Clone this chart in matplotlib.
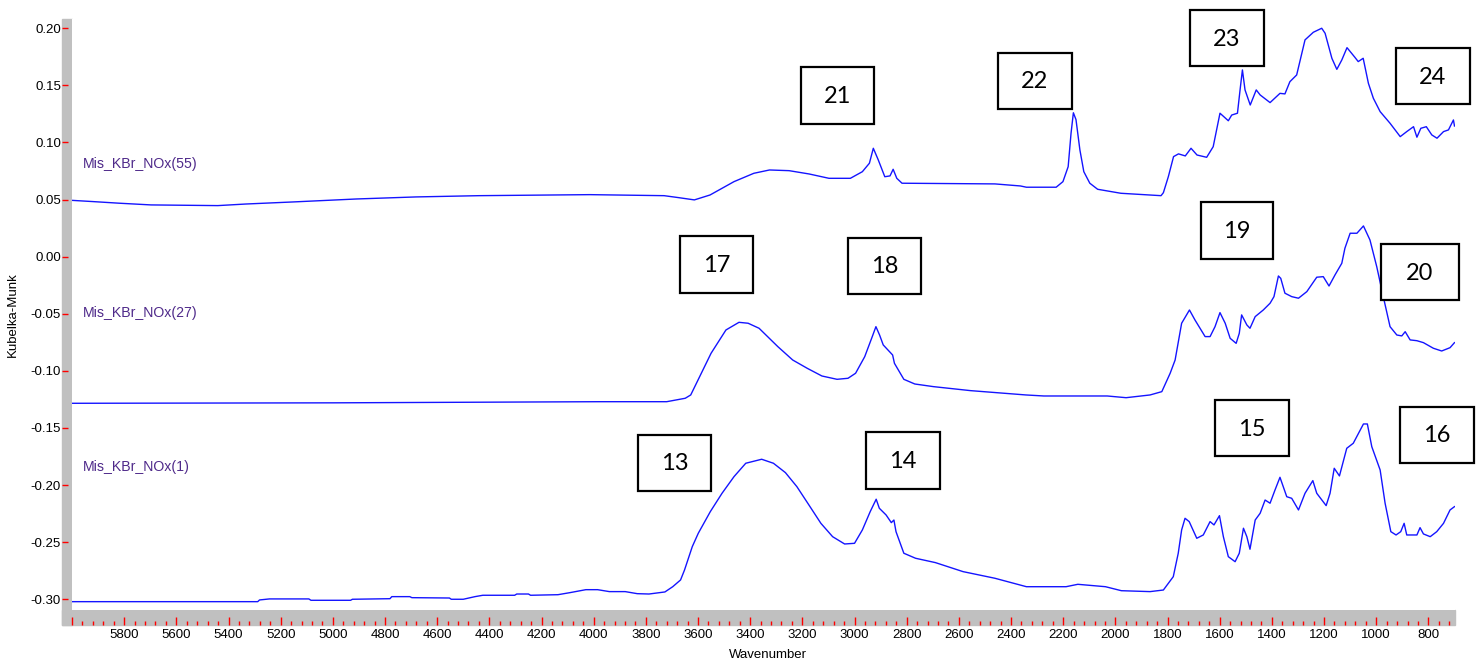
import matplotlib
matplotlib.use("Agg")
import matplotlib.pyplot as plt
from matplotlib.patches import Rectangle
from matplotlib.ticker import MultipleLocator, FuncFormatter

# wavenumber (cm-1) and Kubelka-Munk values
wn_55 = [6000, 5918, 5819, 5697, 5441, 5333, 5153, 4910, 4681, 4440,
         4015, 3730, 3675, 3614, 3554, 3462, 3386, 3326, 3251, 3174,
         3098, 3016, 2970, 2943, 2928, 2909, 2884, 2864, 2852, 2838,
         2818, 2462, 2364, 2341, 2227, 2201, 2181, 2170, 2161, 2151,
         2136, 2121, 2098, 2068, 1979, 1825, 1816, 1797, 1777, 1758,
         1732, 1710, 1687, 1650, 1625, 1599, 1567, 1554, 1532, 1522,
         1513, 1503, 1483, 1460, 1445, 1407, 1369, 1350, 1331, 1305,
         1273, 1241, 1209, 1196, 1170, 1151, 1132, 1112, 1082, 1069,
         1050, 1030, 1011, 985, 947, 908, 883, 857, 844, 829,
         808, 787, 767, 742, 723, 704, 700]
km_55 = [0.0493, 0.0482, 0.0468, 0.0453, 0.0447, 0.0461, 0.0479, 0.0505, 0.0523, 0.0534,
         0.0543, 0.0534, 0.0517, 0.0497, 0.054, 0.0657, 0.073, 0.0759, 0.0753, 0.0724,
         0.0686, 0.0686, 0.0744, 0.0818, 0.0949, 0.0847, 0.070, 0.0707, 0.0765, 0.0686,
         0.0643, 0.0637, 0.0619, 0.0608, 0.0608, 0.0657, 0.0788, 0.108, 0.126, 0.120,
         0.0934, 0.0744, 0.0643, 0.059, 0.0555, 0.0534, 0.056, 0.070, 0.0876, 0.090,
         0.0882, 0.0949, 0.089, 0.087, 0.0963, 0.1256, 0.119, 0.124, 0.1256, 0.146,
         0.1635, 0.146, 0.1328, 0.146, 0.1416, 0.1349, 0.143, 0.1425, 0.1532, 0.1591,
         0.1898, 0.1965, 0.200, 0.1956, 0.1737, 0.164, 0.1722, 0.183, 0.1746, 0.1708,
         0.1737, 0.1518, 0.1387, 0.127, 0.1168, 0.1051, 0.1095, 0.1138, 0.1046, 0.1124,
         0.1138, 0.1066, 0.1037, 0.1095, 0.111, 0.1197, 0.1144]

wn_27 = [6000, 5000, 3976, 3720, 3649, 3628, 3600, 3550, 3493, 3443,
         3408, 3366, 3294, 3237, 3181, 3125, 3067, 3025, 2996, 2961,
         2932, 2918, 2904, 2890, 2854, 2847, 2811, 2769, 2698, 2556,
         2343, 2274, 2031, 1959, 1867, 1822, 1790, 1771, 1746, 1716,
         1695, 1656, 1637, 1618, 1599, 1579, 1560, 1537, 1525, 1516,
         1496, 1484, 1464, 1433, 1407, 1392, 1375, 1366, 1350, 1324,
         1298, 1266, 1228, 1203, 1181, 1158, 1132, 1120, 1100, 1074,
         1049, 1024, 998, 973, 947, 921, 902, 889, 870, 844,
         819, 781, 749, 717, 700]
km_27 = [-0.1284, -0.128, -0.127, -0.127, -0.124, -0.1211, -0.108, -0.0846, -0.0642, -0.0575,
         -0.0583, -0.0627, -0.0788, -0.0905, -0.0978, -0.1045, -0.1074, -0.1065, -0.1021, -0.0876,
         -0.070, -0.0613, -0.0686, -0.0773, -0.0861, -0.0934, -0.1074, -0.1115, -0.1138, -0.1173,
         -0.1211, -0.122, -0.122, -0.1235, -0.1211, -0.1182, -0.1021, -0.0905, -0.0583, -0.0467,
         -0.0554, -0.070, -0.070, -0.0613, -0.049, -0.0583, -0.0715, -0.0759, -0.0671, -0.051,
         -0.0598, -0.0627, -0.0525, -0.0467, -0.0408, -0.035, -0.0169, -0.019, -0.032, -0.035,
         -0.0364, -0.0306, -0.018, -0.0175, -0.0257, -0.016, -0.0058, 0.0074, 0.0205, 0.0205,
         0.0269, 0.0146, -0.0088, -0.035, -0.0613, -0.0686, -0.0694, -0.0657, -0.0729, -0.0736,
         -0.0753, -0.0802, -0.0826, -0.0797, -0.0753]

wn_1 = [6000, 5288, 5281, 5243, 5092, 5084, 4932, 4925, 4781, 4774,
        4705, 4697, 4553, 4546, 4500, 4455, 4425, 4303, 4295, 4250,
        4242, 4137, 4091, 4030, 3985, 3940, 3879, 3833, 3788, 3727,
        3697, 3667, 3652, 3622, 3599, 3553, 3508, 3462, 3417, 3356,
        3311, 3265, 3221, 3175, 3129, 3084, 3038, 3000, 2970, 2940,
        2917, 2905, 2879, 2859, 2849, 2841, 2811, 2766, 2690, 2584,
        2462, 2341, 2189, 2144, 2038, 1977, 1867, 1816, 1778, 1759,
        1746, 1733, 1717, 1688, 1663, 1637, 1622, 1601, 1586, 1567,
        1541, 1525, 1509, 1496, 1484, 1464, 1445, 1426, 1407, 1388,
        1369, 1343, 1324, 1298, 1273, 1243, 1228, 1192, 1177, 1161,
        1141, 1113, 1088, 1049, 1034, 1017, 985, 966, 944, 924,
        906, 893, 883, 844, 832, 819, 793, 768, 742, 717,
        700]
km_1 = [-0.3021, -0.3021, -0.3006, -0.2997, -0.2997, -0.3009, -0.3009, -0.300, -0.2995, -0.2977,
        -0.2977, -0.2986, -0.2989, -0.300, -0.300, -0.2977, -0.2965, -0.2965, -0.2954, -0.2954,
        -0.2965, -0.296, -0.2942, -0.2916, -0.2916, -0.2933, -0.2933, -0.2951, -0.2954, -0.2936,
        -0.289, -0.2831, -0.2745, -0.2539, -0.2422, -0.2233, -0.2072, -0.1926, -0.1809, -0.1774,
        -0.1809, -0.1891, -0.2014, -0.2174, -0.2335, -0.2452, -0.2516, -0.251, -0.2393, -0.2233,
        -0.2124, -0.2203, -0.2262, -0.2329, -0.2306, -0.2408, -0.2597, -0.2641, -0.2679, -0.2758,
        -0.2816, -0.289, -0.289, -0.2869, -0.289, -0.2925, -0.2933, -0.2919, -0.2802, -0.2597,
        -0.2393, -0.2291, -0.232, -0.2466, -0.2437, -0.232, -0.2349, -0.2268, -0.2452, -0.2627,
        -0.2671, -0.2597, -0.2378, -0.2452, -0.2562, -0.2306, -0.2247, -0.2131, -0.2159, -0.2043,
        -0.1932, -0.2102, -0.2116, -0.2218, -0.2072, -0.1961, -0.2072, -0.218, -0.2072, -0.1853,
        -0.192, -0.1678, -0.1634, -0.1465, -0.1465, -0.1664, -0.1868, -0.2159, -0.2408, -0.2437,
        -0.2408, -0.2335, -0.2437, -0.2437, -0.2373, -0.2428, -0.2452, -0.2408, -0.2335, -0.2218,
        -0.2189]

series_names = ["Mis_KBr_NOx(55)", "Mis_KBr_NOx(27)", "Mis_KBr_NOx(1)"]
box_labels = ["21", "22", "23", "24", "17", "18", "19", "20", "13", "14", "15", "16"]

# ---- layout (pixels of the 1479x661 picture) ----
W, H = 1479, 661
PT = 0.72  # points per pixel at dpi 100


def fx(px):
    return px / W


def fy(py):
    return 1 - py / H


plt.rcParams['font.family'] = ['Liberation Sans', 'DejaVu Sans']
plt.rcParams['axes.unicode_minus'] = False

fig = plt.figure(figsize=(W / 100, H / 100), dpi=100)
fig.patch.set_facecolor('white')

left, right, top, bottom = 72, 1455, 19, 610
ax = fig.add_axes([fx(left), fy(bottom), fx(right) - fx(left), fy(top) - fy(bottom)])

# gray frame bands left and below the plot
band = '#c0c0c0'
fig.patches.append(Rectangle((fx(62), fy(625)), fx(72) - fx(62), fy(19) - fy(625),
                             transform=fig.transFigure, color=band, zorder=-1))
fig.patches.append(Rectangle((fx(62), fy(625)), fx(right) - fx(62), fy(610) - fy(625),
                             transform=fig.transFigure, color=band, zorder=-1))

for wn, km in [(wn_55, km_55), (wn_27, km_27), (wn_1, km_1)]:
    ax.plot(wn, km, color='#1414ff', lw=1.0)

ax.set_xlim(6000, 698)
ax.set_ylim(-0.3094, 0.2081)

for s in ax.spines.values():
    s.set_visible(False)
ax.spines['left'].set_position(('outward', 10 * PT))
ax.spines['bottom'].set_position(('outward', 15 * PT))

ax.xaxis.set_major_locator(MultipleLocator(200))
ax.xaxis.set_minor_locator(MultipleLocator(40))
ax.xaxis.set_major_formatter(FuncFormatter(lambda v, p: '' if v > 5900 else f'{v:.0f}'))
ax.yaxis.set_major_locator(MultipleLocator(0.05))
ax.yaxis.set_major_formatter(FuncFormatter(lambda v, p: f'{v:.2f}'))

ax.tick_params(axis='x', which='major', direction='in', length=8 * PT, width=1,
               color='red', pad=4 * PT, labelsize=9.5)
ax.tick_params(axis='x', which='minor', direction='in', length=4 * PT, width=1, color='red')
ax.tick_params(axis='y', which='major', direction='in', length=6 * PT, width=1,
               color='red', pad=1 * PT, labelsize=9.5)

fig.text(fx(768), fy(655), 'Wavenumber', ha='center', va='center', fontsize=9.5)
fig.text(fx(13), fy(315), 'Kubelka-Munk', ha='center', va='center', rotation=90,
         fontsize=9.5)

name_pos = [(83, 164), (83, 313), (83, 467)]
for name, (px, py) in zip(series_names, name_pos):
    fig.text(fx(px), fy(py), name, ha='left', va='center', fontsize=10.2, color='#4f2a8a')

box_pos = [(801, 67, 874, 124), (998, 53, 1072, 109), (1190, 10, 1264, 66), (1396, 48, 1470, 104),
           (680, 236, 753, 293), (848, 238, 921, 294), (1201, 202, 1273, 259), (1381, 244, 1459, 300),
           (638, 435, 711, 491), (866, 432, 940, 489), (1215, 400, 1289, 456), (1400, 407, 1474, 463)]
for lab, (x0, y0, x1, y1) in zip(box_labels, box_pos):
    fig.patches.append(Rectangle((fx(x0), fy(y1)), fx(x1) - fx(x0), fy(y0) - fy(y1),
                                 transform=fig.transFigure, facecolor='white',
                                 edgecolor='black', lw=1.6, zorder=5))
    fig.text(fx((x0 + x1) / 2), fy((y0 + y1) / 2 + 1), lab, ha='center', va='center',
             fontsize=17, family=['Lato', 'DejaVu Sans'], zorder=6)

fig.savefig('out.png', dpi=100)
